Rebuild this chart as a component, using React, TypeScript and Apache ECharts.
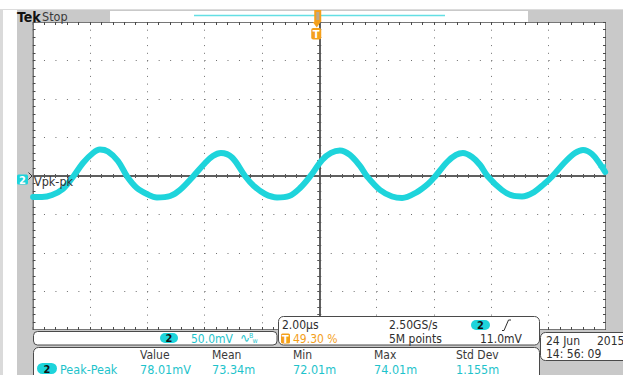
import React, { useEffect, useRef } from "react";
import * as echarts from "echarts";

// Channel 2 trace: time in µs from screen centre, amplitude in mV
const timeUs = [
  -9.98, -9.67, -9.32, -8.94, -8.59, -8.24, -7.89, -7.65, -7.37, -7.02,
  -6.7, -6.36, -6.01, -5.66, -5.2, -4.86, -4.4, -3.98, -3.71, -3.43,
  -3.04, -2.59, -2.28, -1.89, -1.47, -1.05, -0.67, -0.32, 0.1, 0.41,
  0.72, 1.07, 1.42, 1.67, 2.12, 2.54, 2.89, 3.41, 3.79, 4.04,
  4.46, 4.77, 5.01, 5.33, 5.61, 5.88, 6.37, 6.72, 7.07, 7.49,
  7.84, 8.12, 8.57, 8.92, 9.2, 9.51, 9.79, 9.97,
];
const ch2Mv = [
  -27.3, -27.3, -24.7, -16.9, -1.3, 16.9, 29.9, 34.4, 31.8, 19.5,
  -0.6, -15.6, -23.4, -27.9, -26.0, -18.2, -0.6, 16.9, 26.0, 29.9,
  24.0, 0, -13.0, -23.4, -27.9, -26.0, -15.6, -0.6, 20.8, 29.9,
  33.1, 27.3, 13.0, -0.6, -18.2, -26.6, -28.6, -20.8, -10.4, -0.6,
  18.2, 27.3, 29.9, 24.7, 14.3, -0.6, -18.2, -25.3, -26.6, -20.8,
  -10.4, -0.6, 18.2, 29.9, 33.8, 28.6, 15.6, 5.2,
];

// Acquisition settings
const timePerDivUs = 2;
const voltsPerDivMv = 50;
const horizDivs = 10;
const vertDivs = 8;
const triggerTimeUs = -0.14; // trigger at 49.30 % of the record
const triggerLevelMv = 11.0;
const channelZeroMv = 0;

// Readouts
const headerTexts = ["Tek", "Stop"];
const channelReadout = ["2", "50.0mV"];
const timebaseReadout = ["2.00µs", "2.50GS/s", "2", "49.30 %", "5M points", "11.0mV"];
const dateReadout = ["24 Jun", "2015", "14: 56: 09"];
const measHeaders = ["Value", "Mean", "Min", "Max", "Std Dev"];
const measName = "Peak-Peak";
const measValues = ["78.01mV", "73.34m", "72.01m", "74.01m", "1.155m"];
const cursorLabel = "Vpk-pk";

const CYAN = "#1ed4db";
const CYAN_TEXT = "#1ec3cb";
const ORANGE = "#f4a01c";
const GREY = "#c9c9c9";
const INK = "#2e2e2e";
const FRAME = "#4a4a4a";
const FONT = "'Liberation Sans Narrow', 'Arial Narrow', 'DejaVu Sans Condensed', sans-serif";

const measColX = [140, 212, 293, 374, 456];

function txt(text: string, x: number, y: number, fill: string, size = 12, extra: any = {}) {
  return {
    type: "text",
    z: 60,
    style: { text, x, y, fill, font: `${size}px ${FONT}`, verticalAlign: "middle", align: "left", ...extra },
  };
}

function badge(label: string, x: number, y: number, w: number, h: number, fill: string, textFill: string, r?: number) {
  return {
    type: "group",
    z: 60,
    children: [
      { type: "rect", z: 60, shape: { x, y, width: w, height: h, r: r ?? h / 2 }, style: { fill } },
      {
        type: "text",
        z: 61,
        style: {
          text: label, x: x + w / 2, y: y + h / 2 + 0.5, align: "center", verticalAlign: "middle",
          fill: textFill, font: `bold 11px ${FONT}`,
        },
      },
    ],
  };
}

function panel(x: number, y: number, w: number, h: number, r = 5) {
  return {
    type: "rect",
    z: 40,
    shape: { x, y, width: w, height: h, r },
    style: { fill: "#ffffff", stroke: FRAME, lineWidth: 1 },
  };
}

export default function App() {
  const ref = useRef<HTMLDivElement>(null);

  useEffect(() => {
    document.body.style.margin = "0";
    if (!ref.current) return;
    const chart = echarts.init(ref.current, undefined, { renderer: "svg" });

    const xHalf = (horizDivs * timePerDivUs) / 2;
    const yHalf = (vertDivs * voltsPerDivMv) / 2;
    const xBase = {
      type: "value", min: -xHalf, max: xHalf, interval: timePerDivUs,
      axisLabel: { show: false }, splitLine: { show: false },
    };
    const yBase = {
      type: "value", min: -yHalf, max: yHalf, interval: voltsPerDivMv,
      axisLabel: { show: false }, splitLine: { show: false },
    };
    const centreLine = { color: "#565656", width: 1.5 };
    const borderLine = { color: FRAME, width: 1.5 };
    const tick = (len: number, inside: boolean, color: string) => ({
      axisTick: { show: true, inside, length: len, lineStyle: { color, width: 1 } },
      minorTick: { show: true, splitNumber: 5, length: len, lineStyle: { color, width: 1 } },
    });

    const bezel: any[] = [
      // instrument bezel
      { type: "rect", z: 1, shape: { x: 0, y: 10, width: 3, height: 365 }, style: { fill: "#dadada" } },
      { type: "line", z: 1, shape: { x1: 0, y1: 9.5, x2: 623, y2: 9.5 }, style: { stroke: "#dcdcdc", lineWidth: 1 } },
      { type: "rect", z: 1, shape: { x: 17, y: 10, width: 606, height: 12 }, style: { fill: GREY } },
      { type: "rect", z: 1, shape: { x: 17, y: 22, width: 15.5, height: 353 }, style: { fill: GREY } },
      { type: "rect", z: 1, shape: { x: 606, y: 22, width: 17, height: 353 }, style: { fill: GREY } },
      { type: "rect", z: 1, shape: { x: 17, y: 330, width: 606, height: 45 }, style: { fill: GREY } },
      // record view strip
      { type: "rect", z: 2, shape: { x: 110, y: 11, width: 418, height: 11 }, style: { fill: "#ffffff" } },
      { type: "line", z: 3, shape: { x1: 194, y1: 15.5, x2: 445, y2: 15.5 }, style: { stroke: "#63dfe4", lineWidth: 1.5 } },
      { type: "text", z: 60, style: { text: headerTexts[0], x: 17, y: 16.5, fill: "#111", font: `bold 14px 'DejaVu Sans Condensed', sans-serif`, verticalAlign: "middle" } },
      txt(headerTexts[1], 42, 16.5, "#3a3a3a", 12.5),

      // vertical scale readout
      panel(33.5, 331.5, 243.5, 13.5, 4),
      badge(channelReadout[0], 160, 333, 18, 10, CYAN, "#111"),
      txt(channelReadout[1], 191, 338.5, CYAN_TEXT, 12),
      txt("∿", 240, 338, CYAN_TEXT, 12, { font: `12px 'DejaVu Sans', sans-serif` }),
      txt("B", 249, 336, CYAN_TEXT, 7),
      txt("w", 252.5, 341, CYAN_TEXT, 7),

      // timebase / trigger readout
      panel(278.5, 316.5, 261, 28.5, 5),
      txt(timebaseReadout[0], 282, 324.5, INK, 12),
      txt(timebaseReadout[1], 389, 324.5, INK, 12),
      badge(timebaseReadout[2], 471, 320, 19, 10, CYAN, "#111"),
      {
        type: "polyline", z: 60,
        shape: { points: [[502, 330.5], [504, 330.5], [508.5, 320], [511, 320]] },
        style: { stroke: INK, lineWidth: 1, fill: "none" },
      },
      badge("T", 281, 333.5, 9, 10, ORANGE, "#fff", 1.5),
      txt(timebaseReadout[3], 293, 338.5, ORANGE, 12),
      txt(timebaseReadout[4], 389, 338.5, INK, 12),
      txt(timebaseReadout[5], 480, 338.5, INK, 12),

      // date / time
      panel(540.5, 332.5, 95, 28, 5),
      txt(dateReadout[0], 546, 341, INK, 12),
      txt(dateReadout[1], 597, 341, INK, 12),
      txt(dateReadout[2], 546, 354, INK, 12),

      // measurement table
      panel(33.5, 347.5, 506, 40, 5),
      ...measHeaders.map((h, i) => txt(h, measColX[i], 355, "#3a3a3a", 12)),
      badge("2", 37, 363, 20, 11, CYAN, "#111"),
      txt(measName, 60, 369, CYAN_TEXT, 12.5),
      ...measValues.map((v, i) => txt(v, measColX[i], 369, CYAN_TEXT, 12.5)),
    ];

    const baseOption: any = {
      animation: false,
      backgroundColor: "#ffffff",
      grid: { left: 32.5, top: 22, width: 573.5, height: 308, show: false },
      xAxis: [
        {
          ...xBase, position: "bottom",
          axisLine: { show: true, onZero: true, onZeroAxisIndex: 0, lineStyle: centreLine },
          ...tick(2, false, "#565656"),
          splitLine: { show: true, lineStyle: { color: "#6f6f6f", width: 1, type: [1, 6.7] } },
        },
        {
          ...xBase, position: "bottom",
          axisLine: { show: true, onZero: true, onZeroAxisIndex: 0, lineStyle: centreLine },
          ...tick(2, true, "#565656"),
        },
        {
          ...xBase, position: "bottom",
          axisLine: { show: true, onZero: false, lineStyle: borderLine },
          ...tick(3, true, FRAME),
        },
        {
          ...xBase, position: "top",
          axisLine: { show: true, onZero: false, lineStyle: borderLine },
          ...tick(3, true, FRAME),
        },
      ],
      yAxis: [
        {
          ...yBase, position: "left",
          axisLine: { show: true, onZero: true, onZeroAxisIndex: 0, lineStyle: centreLine },
          ...tick(2, false, "#565656"),
          splitLine: { show: true, lineStyle: { color: "#6f6f6f", width: 1, type: [1, 10.47] } },
        },
        {
          ...yBase, position: "left",
          axisLine: { show: true, onZero: true, onZeroAxisIndex: 0, lineStyle: centreLine },
          ...tick(2, true, "#565656"),
        },
        {
          ...yBase, position: "left",
          axisLine: { show: true, onZero: false, lineStyle: borderLine },
          ...tick(3, true, FRAME),
        },
        {
          ...yBase, position: "right",
          axisLine: { show: true, onZero: false, lineStyle: borderLine },
          ...tick(3, true, FRAME),
        },
      ],
      series: [
        {
          type: "line",
          xAxisIndex: 0,
          yAxisIndex: 0,
          data: timeUs.map((t, i) => [t, ch2Mv[i]]),
          symbol: "none",
          showSymbol: false,
          smooth: 0.35,
          clip: true,
          lineStyle: { color: CYAN, width: 6, cap: "round", join: "round" },
          z: 5,
          silent: true,
        },
        {
          type: "scatter",
          xAxisIndex: 0,
          yAxisIndex: 0,
          data: [[xHalf, triggerLevelMv]],
          symbol: "triangle",
          symbolSize: [8, 8],
          symbolRotate: 90,
          symbolOffset: [-4, 0],
          itemStyle: { color: CYAN },
          clip: false,
          silent: true,
          z: 6,
        },
      ],
    };

    // First pass lays out the axes so markers can be placed on them
    chart.setOption(baseOption);
    const tx = chart.convertToPixel({ xAxisIndex: 0 }, triggerTimeUs) as number;
    const gy = chart.convertToPixel({ yAxisIndex: 0 }, channelZeroMv) as number;

    const markers: any[] = [
      { type: "rect", z: 62, shape: { x: tx - 1, y: 10, width: 7, height: 12 }, style: { fill: ORANGE } },
      { type: "rect", z: 63, shape: { x: tx + 1, y: 12, width: 3, height: 8 }, style: { fill: "#b9a88f" } },
      {
        type: "polygon", z: 62,
        shape: { points: [[tx - 2.5, 22], [tx + 5.5, 22], [tx + 1.5, 27.5]] },
        style: { fill: ORANGE },
      },
      badge("T", tx - 4, 28, 10, 11.5, ORANGE, "#fff", 2),
      badge("2", 17, gy - 1.5, 11, 10, CYAN, "#fff", 1.5),
      {
        type: "polyline", z: 62,
        shape: { points: [[28.5, gy - 3.5], [32, gy], [28.5, gy + 3.5]] },
        style: { stroke: "#333", lineWidth: 1, fill: "none" },
      },
      txt(cursorLabel, 34, gy + 5, "#333", 12.5),
    ];

    chart.setOption({ ...baseOption, graphic: { elements: [...bezel, ...markers] } }, true);

    return () => chart.dispose();
  }, []);

  return <div ref={ref} style={{ width: 623, height: 375 }} />;
}
